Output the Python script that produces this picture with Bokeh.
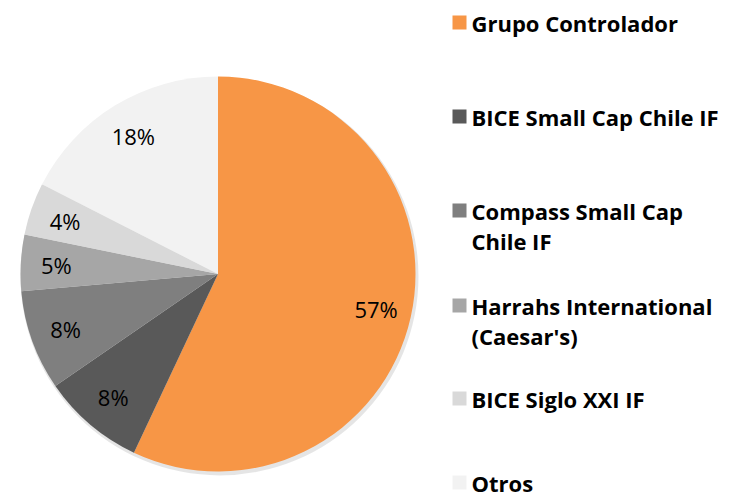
import math
from bokeh.plotting import figure
from bokeh.models import ColumnDataSource, Range1d
from bokeh.core.properties import value
from bokeh.embed import file_html
from bokeh.resources import INLINE

# ---- data ----
categories = ["Grupo Controlador", "BICE Small Cap Chile IF", "Compass Small Cap Chile IF",
              "Harrahs International (Caesar's)", "BICE Siglo XXI IF", "Otros"]
legend_lines = [["Grupo Controlador"], ["BICE Small Cap Chile IF"], ["Compass Small Cap", "Chile IF"],
                ["Harrahs International", "(Caesar's)"], ["BICE Siglo XXI IF"], ["Otros"]]
shares = [57.0, 8.4, 8.2, 4.6, 4.3, 17.5]
labels = ["57%", "8%", "8%", "5%", "4%", "18%"]
colors = ["#F79646", "#595959", "#7F7F7F", "#A6A6A6", "#D9D9D9", "#F2F2F2"]

W, H = 742, 503
cx, cy, R = 217.5, H - 273.5, 197.5

p = figure(width=W, height=H, output_backend="svg", toolbar_location=None,
           x_range=Range1d(0, W), y_range=Range1d(0, H), min_border=0)
p.axis.visible = False
p.grid.visible = False
p.outline_line_color = None
p.background_fill_color = "white"
p.border_fill_color = "white"

total = sum(shares)
starts, ends, lx, ly = [], [], [], []
acc = 0.0
for s in shares:
    a0 = math.pi / 2 - 2 * math.pi * acc / total
    a1 = math.pi / 2 - 2 * math.pi * (acc + s) / total
    starts.append(a0)
    ends.append(a1)
    mid = (a0 + a1) / 2
    lx.append(cx + 0.82 * R * math.cos(mid))
    ly.append(cy + 0.82 * R * math.sin(mid))
    acc += s

# faint shadow
p.circle(x=[cx + 1.5], y=[cy - 2.5], radius=R + 1.5, fill_color="#000000", fill_alpha=0.10,
         line_color=None)

src = ColumnDataSource(dict(start=starts, end=ends, color=colors, lx=lx, ly=ly, label=labels))
p.wedge(x=cx, y=cy, radius=R, start_angle="start", end_angle="end", direction="clock",
        fill_color="color", line_color=None, source=src)
p.text(x="lx", y="ly", text="label", source=src, text_align="center", text_baseline="middle",
       text_font_size="22px", text_color="#000000", text_font=value("Open Sans"))

# legend
entry_top = [22, 116, 210, 305, 398, 482]  # page y of first line center
sqx_list, sqy_list, sq_col = [], [], []
txt_x, txt_y, txt = [], [], []
for i, lines in enumerate(legend_lines):
    y0 = H - entry_top[i]
    sqx_list.append(459)
    sqy_list.append(y0)
    sq_col.append(colors[i])
    for j, line in enumerate(lines):
        txt_x.append(471)
        txt_y.append(y0 - 30 * j)
        txt.append(line)

p.rect(x=sqx_list, y=sqy_list, width=14, height=14, fill_color=sq_col, line_color=None)
p.text(x=txt_x, y=txt_y, text=txt, text_align="left", text_baseline="middle",
       text_font_size="22px", text_font_style="bold", text_color="#000000",
       text_font=value("Open Sans"))

open("out.html", "w").write(file_html(p, INLINE))
